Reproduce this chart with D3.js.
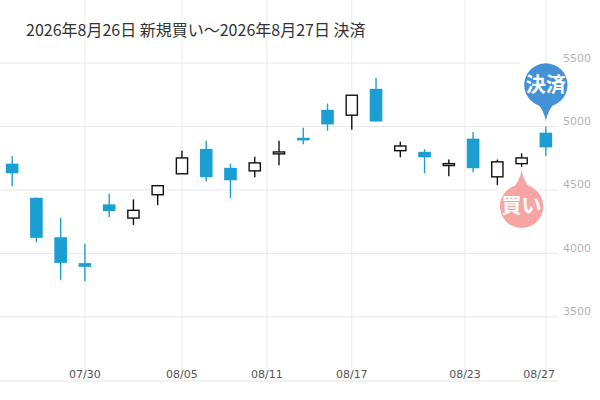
<!DOCTYPE html>
<html>
<head>
<meta charset="utf-8">
<script src="https://cdn.jsdelivr.net/npm/d3@7"></script>
<style>
  body { margin: 0; background: #fff; }
  svg { display: block; }
</style>
</head>
<body>
<div id="chart"></div>
<script>
// trading days (8/11 is a holiday, so it has no candle)
var dates = ['2026-07-27','2026-07-28','2026-07-29','2026-07-30','2026-07-31',
  '2026-08-03','2026-08-04','2026-08-05','2026-08-06','2026-08-07',
  '2026-08-10','2026-08-12','2026-08-13','2026-08-14','2026-08-17',
  '2026-08-18','2026-08-19','2026-08-20','2026-08-21','2026-08-24',
  '2026-08-25','2026-08-26','2026-08-27'];
var openV  = [4707,4438,4127,3923,4386,4278,4462,4627,4823,4674,4650,4784,4911,5131,5089,5296,4809,4800,4692,4904,4603,4707,4951];
var highV  = [4765,4440,4278,4075,4470,4425,4540,4809,4888,4707,4762,4888,4990,5180,5246,5382,4880,4821,4739,4956,4739,4788,5000];
var lowV   = [4529,4088,3792,3780,4286,4224,4380,4627,4569,4435,4600,4694,4860,4966,4974,5039,4757,4631,4608,4639,4537,4682,4770];
var closeV = [4631,4122,3925,3894,4333,4339,4533,4752,4600,4576,4713,4799,4890,5016,5246,5039,4846,4757,4707,4671,4721,4752,4835];

var xTickDates = ['2026-07-30','2026-08-05','2026-08-11','2026-08-17','2026-08-23','2026-08-27'];
var xTickLabels = ['07/30','08/05','08/11','08/17','08/23','08/27'];
var yTicks = [3500, 4000, 4500, 5000, 5500];

var title = '2026年8月26日 新規買い～2026年8月27日 決済';
var buyIndex = 21, sellIndex = 22;
var buyText = '買い', sellText = '決済';

var W = 600, H = 400;
var plotRight = 558, axisY = 381;
var BLUE = '#1b9fd3';

var parse = d3.timeParse('%Y-%m-%d');
var days = dates.map(parse);

var x = d3.scaleLinear().domain([-0.5, dates.length - 0.5]).range([0, plotRight]);
// calendar date -> fractional candle index (interpolates over weekends / holidays)
var dayToIndex = d3.scaleTime().domain(days).range(days.map(function(d, i){ return i; }));
var y = d3.scaleLinear().domain([3500, 5500]).range([316.8, 63]);

var candles = dates.map(function(d, i){
  return { i: i, o: openV[i], h: highV[i], l: lowV[i], c: closeV[i], up: closeV[i] >= openV[i] };
});

var svg = d3.select('#chart').append('svg').attr('width', W).attr('height', H);

// horizontal grid + right labels
svg.append('g').selectAll('line').data(yTicks).enter().append('line')
  .attr('x1', 0).attr('x2', plotRight)
  .attr('y1', function(d){ return y(d); }).attr('y2', function(d){ return y(d); })
  .attr('stroke', '#e8e8e8').attr('stroke-width', 1);
svg.append('g').selectAll('text').data(yTicks).enter().append('text')
  .attr('x', 563).attr('y', function(d){ return y(d) - 1.5; })
  .attr('font-family', 'DejaVu Sans').attr('font-size', 11).attr('fill', '#b4b4b4')
  .text(function(d){ return d; });

// vertical grid
var tickX = xTickDates.map(function(d){ return x(dayToIndex(parse(d))); });
svg.append('g').selectAll('line').data(tickX).enter().append('line')
  .attr('x1', function(d){ return d; }).attr('x2', function(d){ return d; })
  .attr('y1', 0).attr('y2', axisY)
  .attr('stroke', '#ebebeb').attr('stroke-width', 1);

// bottom axis line + labels
svg.append('line').attr('x1', 0).attr('x2', plotRight).attr('y1', axisY).attr('y2', axisY)
  .attr('stroke', '#e4e4e4').attr('stroke-width', 1);
svg.append('g').selectAll('text').data(xTickLabels).enter().append('text')
  .attr('y', 378)
  .attr('font-family', 'DejaVu Sans').attr('font-size', 11).attr('fill', '#555')
  .attr('text-anchor', 'middle')
  .text(function(d){ return d; })
  .attr('x', function(d, i){
    var half = this.getComputedTextLength() / 2;
    return Math.min(tickX[i], plotRight - 3 - half);
  });

// title
svg.append('text').attr('x', 26).attr('y', 36)
  .attr('font-family', '"Noto Sans CJK JP", "Noto Sans"').attr('font-size', 16).attr('fill', '#333')
  .text(title);

// candles
var bw = (x(1) - x(0)) * 0.52;
var g = svg.append('g').selectAll('g').data(candles).enter().append('g');
g.append('line')
  .attr('x1', function(d){ return x(d.i); }).attr('x2', function(d){ return x(d.i); })
  .attr('y1', function(d){ return y(d.h); }).attr('y2', function(d){ return y(d.l); })
  .attr('stroke', function(d){ return d.up ? '#111' : BLUE; }).attr('stroke-width', 1.4);
g.append('rect')
  .attr('x', function(d){ return x(d.i) - bw / 2 + (d.up ? 0.7 : 0); })
  .attr('width', function(d){ return d.up ? bw - 1.4 : bw; })
  .attr('y', function(d){ return y(Math.max(d.o, d.c)); })
  .attr('height', function(d){ return Math.max(1.5, Math.abs(y(d.o) - y(d.c))); })
  .attr('fill', function(d){ return d.up ? '#fff' : BLUE; })
  .attr('stroke', function(d){ return d.up ? '#111' : 'none'; })
  .attr('stroke-width', 1.4);

// marker bubbles
function bubble(cx, tipY, dir, color, label){
  var r = 21.7;
  var cy = tipY - dir * 36;
  var b = svg.append('g');
  var top = dir > 0 ? cy - r - 1 : tipY + 16;
  var bot = dir > 0 ? tipY - 1 : cy + r + 2;
  b.append('rect').attr('x', cx - 26).attr('y', top).attr('width', 42).attr('height', bot - top).attr('fill', '#fff');
  b.append('circle').attr('cx', cx).attr('cy', cy).attr('r', r).attr('fill', color);
  var by = cy + dir * (r - 5);
  b.append('path').attr('fill', color)
    .attr('d', 'M' + (cx - 10) + ',' + by +
      ' Q' + (cx - 2) + ',' + (by + dir * 8) + ' ' + cx + ',' + tipY +
      ' Q' + (cx + 2) + ',' + (by + dir * 8) + ' ' + (cx + 10) + ',' + by + ' Z');
  b.append('text').attr('x', cx).attr('y', cy + 7)
    .attr('text-anchor', 'middle').attr('fill', '#fff')
    .attr('font-family', '"Noto Sans CJK JP"').attr('font-size', 20).attr('font-weight', 'bold')
    .text(label);
}
bubble(x(sellIndex), y(highV[sellIndex]) - 5.5, 1, '#4591d6', sellText);
bubble(x(buyIndex), y(lowV[buyIndex]) + 3.5, -1, '#f6a4a4', buyText);
</script>
</body>
</html>
